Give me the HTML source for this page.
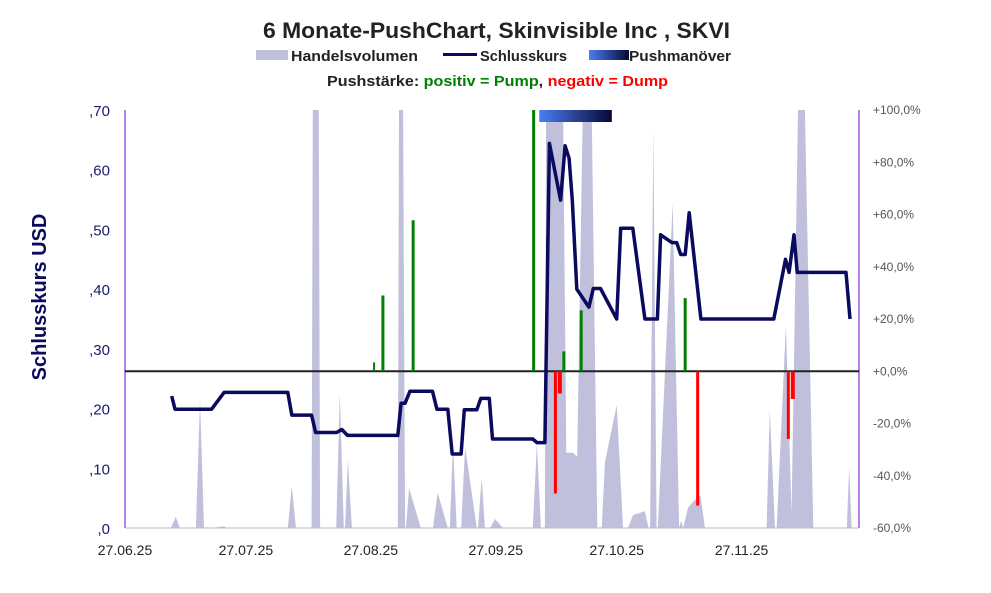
<!DOCTYPE html>
<html><head><meta charset="utf-8"><style>
body{margin:0;background:#fff;font-family:"Liberation Sans",sans-serif;}
svg{display:block}
</style></head><body>
<svg id="chart" width="991" height="593" xmlns="http://www.w3.org/2000/svg">
<defs><linearGradient id="pg" x1="0" x2="1"><stop offset="0" stop-color="#4a7ef2"/><stop offset="1" stop-color="#070736"/></linearGradient></defs>
<text x="263" y="38" textLength="467" lengthAdjust="spacingAndGlyphs" font-size="22" font-weight="bold" fill="#222">6 Monate-PushChart, Skinvisible Inc , SKVI</text>
<g font-size="15" font-weight="bold" fill="#222">
<rect x="256" y="50" width="32" height="10" fill="#c0c0dc"/>
<text x="291" y="61" textLength="127" lengthAdjust="spacingAndGlyphs">Handelsvolumen</text>
<rect x="443" y="53" width="34" height="3" fill="#0a0a5e"/>
<text x="480" y="61" textLength="87" lengthAdjust="spacingAndGlyphs">Schlusskurs</text>
<rect x="589" y="50" width="40" height="10" fill="url(#pg)"/>
<text x="629" y="61" textLength="102" lengthAdjust="spacingAndGlyphs">Pushmanöver</text>
<text x="327" y="86" textLength="341" lengthAdjust="spacingAndGlyphs">Pushstärke:  <tspan fill="#008000">positiv = Pump</tspan>,  <tspan fill="#ff0000">negativ = Dump</tspan></text>
</g>
<text transform="translate(46,297) rotate(-90)" text-anchor="middle" font-size="20" font-weight="bold" fill="#0a0a5e">Schlusskurs USD</text>
<g id="plot"></g>
</svg>
<script>
const volDays=[11.4,12.6,13.6,17.6,18.6,19.6,21.5,24.6,25.3,40.4,41.4,42.4,46.3,46.6,48.1,48.4,52.4,53.3,54.3,54.6,55.3,56.3,67.7,68,69,69.5,69.7,70.5,73.4,76.4,77.6,80.1,80.6,81.4,82.3,83.4,84.4,87.3,87.6,88.5,89.3,90.6,91.8,93.8,101.2,102.2,103.2,104.2,104.5,108.7,109.5,111.2,112.2,113.6,115.8,117.2,118.3,119.1,122.0,123.6,124.8,126.1,129.0,129.9,130.3,131.1,131.9,132.2,135.9,137.5,138,138.5,139.7,141.8,142.8,143.9,159.2,160,161.3,161.7,164,165.4,167,168.7,170.8,179.1,179.7,180.3];
const volValues=[0,.019,0,0,.214,0,0,.003,0,0,.07,0,0,.75,.75,0,0,.226,0,0,.114,0,0,.75,.75,0,0,.067,0,0,.059,0,0,.142,0,0,.136,0,0,.084,0,0,.015,0,0,.142,0,0,.75,.75,.126,.126,.119,.75,.75,0,0,.111,.206,0,0,.022,.028,0,0,.67,0,0,.544,0,.012,0,.034,.05,.055,0,0,.198,0,0,.34,.025,.75,.75,0,0,.103,0];
const priceDays=[11.6,12.4,21.5,24.6,40.4,41.4,46.3,47.3,52.5,53.8,55.2,67.7,68.5,69.5,70.7,76.3,77.4,80.1,81.2,83.4,84.2,87.3,88.3,90.4,91.2,101.2,102.2,104.2,105.3,108.1,109.2,110.2,111.0,112.1,115.1,116.2,118.0,122.0,123.0,126.0,129.0,132.1,132.9,135.7,136.9,137.9,139.0,140.0,142.9,161.0,163.9,164.8,166.0,166.8,178.9,179.9];
const priceValues=[.221,.199,.199,.227,.227,.189,.189,.160,.160,.165,.155,.155,.209,.209,.229,.229,.199,.199,.124,.124,.198,.198,.217,.217,.149,.149,.143,.143,.644,.549,.640,.619,.549,.400,.370,.401,.401,.350,.502,.502,.350,.350,.491,.478,.478,.458,.458,.528,.350,.350,.450,.428,.491,.428,.428,.350];
const pushDays=[61.8,64.0,71.5,101.4,104.6,108.9,113.2,139.0,106.8,107.9,142.1,164.6,165.7];
const pushValues=[3.4,29,57.8,110,51,7.6,23.3,28,-46.8,-8.5,-51.4,-25.9,-10.6];
const pushWidths=[2,3,3,3,1,3,3,3,3,4,3,3,4];
const yTicks=[",0",",10",",20",",30",",40",",50",",60",",70"];
const y2Ticks=["-60,0%","-40,0%","-20,0%","+0,0%","+20,0%","+40,0%","+60,0%","+80,0%","+100,0%"];
const xTicks=["27.06.25","27.07.25","27.08.25","27.09.25","27.10.25","27.11.25"];
const xTickDays=[0,30,61,92,122,153];
const manDays=[102.8,120.8];

const L=125,R=859,T=110,B=528;
const X=d=>L+d*4.03;
const Y=v=>B-Math.min(v,0.7)/0.7*(B-T);
const Y2=p=>B-(Math.min(p,100)+60)/160*(B-T);
const NS="http://www.w3.org/2000/svg";
const plot=document.getElementById('plot');
function mk(t,a){const e=document.createElementNS(NS,t);for(const k in a)e.setAttribute(k,a[k]);plot.appendChild(e);return e;}

let d='M'+X(volDays[0])+','+B;
volDays.forEach((v,i)=>{d+=' L'+X(v).toFixed(1)+','+Y(volValues[i]).toFixed(1);});
d+=' L'+X(volDays[volDays.length-1])+','+B+' Z';
const va=mk('path',{d:d,fill:'#c0c0dc'});



const ax1=mk('line',{x1:L,y1:T,x2:L,y2:B,stroke:'#7000d0','stroke-width':1});


const ax2=mk('line',{x1:R,y1:T,x2:R,y2:B,stroke:'#7000d0','stroke-width':1});


const ax3=mk('line',{x1:L,y1:B,x2:R,y2:B,stroke:'#bbb','stroke-width':1});



const zl=mk('line',{x1:L,y1:Y2(0),x2:R,y2:Y2(0),stroke:'#222','stroke-width':2});



pushDays.forEach((p,i)=>{
  const v=pushValues[i],y0=Y2(0),y1=Y2(v);
  const r=mk('rect',{x:X(p)-pushWidths[i]/2,y:Math.min(y0,y1),width:pushWidths[i],height:Math.abs(y1-y0),fill:v>=0?'#008000':'#ff0000'});
  
  
});

const pm=mk('rect',{x:X(manDays[0]),y:T,width:X(manDays[1])-X(manDays[0]),height:12,fill:'url(#pg)'});



const pl=mk('polyline',{points:priceDays.map((p,i)=>X(p).toFixed(1)+','+Y(priceValues[i]).toFixed(1)).join(' '),fill:'none',stroke:'#0a0a5e','stroke-width':3.5,'stroke-linejoin':'round'});



yTicks.forEach((t,i)=>{
  const e=mk('text',{x:110,y:Y(i*0.1)+6,'text-anchor':'end','font-size':15,fill:'#1a1a6e'});
  e.textContent=t;
  
  
});
y2Ticks.forEach((t,i)=>{
  const e=mk('text',{x:873,y:Y2(-60+i*20)+4,'font-size':12,fill:'#555'});
  e.textContent=t;
  
  
});
xTicks.forEach((t,i)=>{
  const e=mk('text',{x:X(xTickDays[i]),y:555,'text-anchor':'middle','font-size':14,fill:'#222'});
  e.textContent=t;
  
  
});
</script>
</body></html>
